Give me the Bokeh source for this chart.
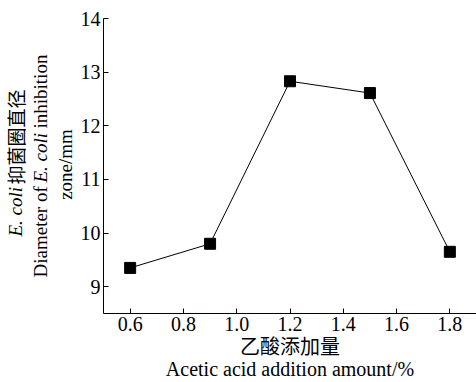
from math import pi

from bokeh.embed import file_html
from bokeh.layouts import row
from bokeh.models import FixedTicker, Label, Range1d
from bokeh.plotting import figure
from bokeh.resources import INLINE

# Acetic acid addition (%) vs. E. coli inhibition zone diameter (mm)
acetic = [0.6, 0.9, 1.2, 1.5, 1.8]
diameter = [9.35, 9.80, 12.83, 12.61, 9.65]

x_ticks = [0.6, 0.8, 1.0, 1.2, 1.4, 1.6, 1.8]
x_tick_labels = ["0.6", "0.8", "1.0", "1.2", "1.4", "1.6", "1.8"]
y_ticks = [9, 10, 11, 12, 13, 14]
y_tick_labels = ["9", "10", "11", "12", "13", "14"]

x_title = "乙酸添加量\nAcetic acid addition amount/%"

SERIF = "'Liberation Serif'"
CJK = "'Noto Sans CJK SC'"
MIXED = "'Liberation Serif', 'Noto Sans CJK SC'"

# page geometry (px)
W, H = 476, 382
TITLE_W = 76          # strip that holds the rotated y-axis title
FRAME_LEFT = 103      # left edge of the plotting area on the page
FRAME_TOP = 18
FRAME_BOTTOM = 313
X0, X1 = 0.5, 1.9
Y0, Y1 = 8.5, 14.0


def add_text(fig, px, py, text, font=SERIF, size="19px", style="normal",
             align="left", angle=0.0):
    # px from the page's left edge of fig, py from the page top;
    # the title strip's frame is lined up with the plot frame
    fig.add_layout(Label(
        x=px, y=FRAME_BOTTOM - py, x_units="screen", y_units="screen",
        text=text, angle=angle, text_font=font, text_font_size=size,
        text_font_style=style, text_align=align, text_baseline="middle",
        text_color="black",
    ))


# main plot
p = figure(
    width=W - TITLE_W, height=H,
    output_backend="svg", toolbar_location=None, title_location=None,
    x_range=Range1d(X0, X1), y_range=Range1d(Y0, Y1),
    min_border_left=FRAME_LEFT - TITLE_W, min_border_right=0,
    min_border_top=FRAME_TOP, min_border_bottom=H - FRAME_BOTTOM,
)
p.outline_line_color = None
p.xgrid.grid_line_color = None
p.ygrid.grid_line_color = None

for ax in (p.xaxis[0], p.yaxis[0]):
    ax.axis_line_color = "black"
    ax.axis_line_width = 1
    ax.major_tick_line_color = "black"
    ax.major_tick_in = 5
    ax.major_tick_out = 0
    ax.minor_tick_line_color = None
    ax.major_label_text_font = SERIF
    ax.major_label_text_font_size = "20px"
    ax.major_label_text_color = "black"

p.xaxis[0].ticker = FixedTicker(ticks=x_ticks)
p.xaxis[0].major_label_overrides = dict(zip(x_ticks, x_tick_labels))
p.xaxis[0].major_label_standoff = 3
p.xaxis[0].axis_label = x_title
p.xaxis[0].axis_label_text_font = MIXED
p.xaxis[0].axis_label_text_font_size = "20px"
p.xaxis[0].axis_label_text_font_style = "normal"
p.xaxis[0].axis_label_text_color = "black"
p.xaxis[0].axis_label_text_line_height = 1.0
p.xaxis[0].axis_label_standoff = 2

p.yaxis[0].ticker = FixedTicker(ticks=y_ticks)
p.yaxis[0].major_label_overrides = dict(zip(y_ticks, y_tick_labels))
p.yaxis[0].major_label_standoff = 3

p.line(acetic, diameter, line_color="black", line_width=1)
p.scatter(acetic, diameter, marker="square", size=11,
          fill_color="black", line_color="black")

# rotated y-axis title, three lines (reading bottom to top)
ytitle = figure(width=TITLE_W, height=H, output_backend="svg",
                toolbar_location=None, x_axis_location=None,
                y_axis_location=None, x_range=Range1d(0, 1),
                y_range=Range1d(0, 1), min_border=0, title_location=None)
ytitle.outline_line_color = None
ytitle.xgrid.grid_line_color = None
ytitle.ygrid.grid_line_color = None

add_text(ytitle, 15, 236, "E. coli", style="italic", angle=pi / 2)
add_text(ytitle, 15, 184, "抑菌圈直径", font=CJK, size="19px", angle=pi / 2)
add_text(ytitle, 40, 277, "Diameter of", angle=pi / 2)
add_text(ytitle, 40, 182, "E. coli", style="italic", angle=pi / 2)
add_text(ytitle, 40, 128, "inhibition", angle=pi / 2)
add_text(ytitle, 65, 164, "zone/mm", align="center", angle=pi / 2)

layout = row(ytitle, p, spacing=0)
open("out.html", "w").write(file_html(layout, INLINE))
